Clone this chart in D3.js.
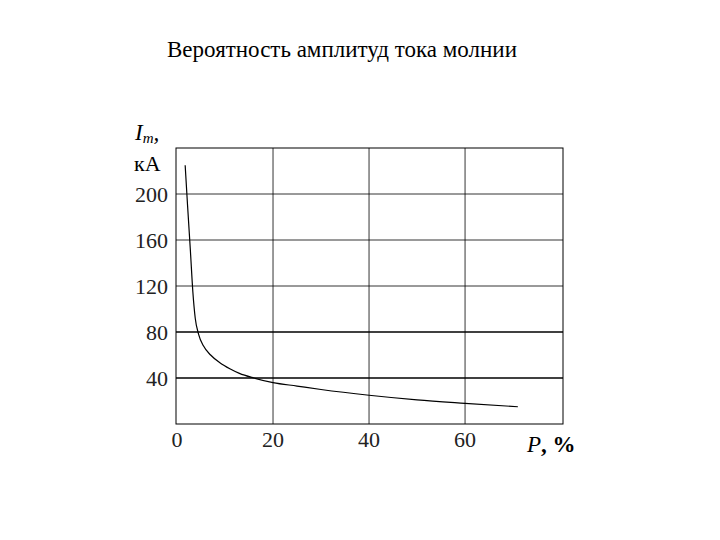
<!DOCTYPE html><html><head><meta charset="utf-8"><script src="https://cdn.jsdelivr.net/npm/d3@7"></script>
<style>body{margin:0;background:#fff}</style></head><body><svg id="c" width="720" height="540"></svg><script>
const P=[1.7,2.2,2.8,3.3,3.8,4.5,5.5,7,9,11,13,16,20,25,30,40,50,60,71];
const I=[225,190,150,115,92,78,68,60,53,48,44,40,36,33,30,25,21,18,15];
const xTicks=[0,20,40,60], yTicks=[40,80,120,160,200];
const svg=d3.select("#c"), F="Liberation Serif, Times New Roman, serif";
const x=d3.scaleLinear().domain([0,80.4]).range([177,563]);
const y=d3.scaleLinear().domain([0,240]).range([424,148]);
svg.append("text").attr("x",342).attr("y",57).attr("text-anchor","middle").attr("font-family",F).attr("font-size",23).text("Вероятность амплитуд тока молнии");
const g=svg.append("g");
xTicks.slice(1).forEach(t=>g.append("line").attr("x1",x(t)).attr("x2",x(t)).attr("y1",148).attr("y2",424).attr("stroke","#000").attr("stroke-width",0.8));
yTicks.forEach(t=>g.append("line").attr("x1",176).attr("x2",563).attr("y1",y(t)).attr("y2",y(t)).attr("stroke","#000").attr("stroke-width",t<=80?1.6:0.8));
g.append("rect").attr("x",176).attr("y",148).attr("width",387).attr("height",276).attr("fill","none").attr("stroke","#000").attr("stroke-width",1);
xTicks.forEach(t=>svg.append("text").attr("x",x(t)).attr("y",447).attr("text-anchor","middle").attr("font-family",F).attr("font-size",22).attr("fill","#222").text(t));
yTicks.forEach(t=>svg.append("text").attr("x",168).attr("y",y(t)+8).attr("text-anchor","end").attr("font-family",F).attr("font-size",22).attr("fill","#222").text(t));
svg.append("path").datum(P.map((p,i)=>[p,I[i]])).attr("d",d3.line().x(d=>x(d[0])).y(d=>y(d[1])).curve(d3.curveMonotoneX)).attr("fill","none").attr("stroke","#000").attr("stroke-width",1.2);
const t1=svg.append("text").attr("x",135).attr("y",140).attr("font-family",F).attr("font-size",23).attr("font-style","italic");
t1.append("tspan").text("I");t1.append("tspan").attr("font-size",15).attr("dy",3).text("m");t1.append("tspan").attr("dy",-3).text(",");
svg.append("text").attr("x",134).attr("y",171).attr("font-family",F).attr("font-size",22).text("кА");
const t2=svg.append("text").attr("x",527).attr("y",452).attr("font-family",F).attr("font-size",23);
t2.append("tspan").attr("font-style","italic").text("P");t2.append("tspan").attr("font-weight","bold").text(", %");
</script></body></html>
